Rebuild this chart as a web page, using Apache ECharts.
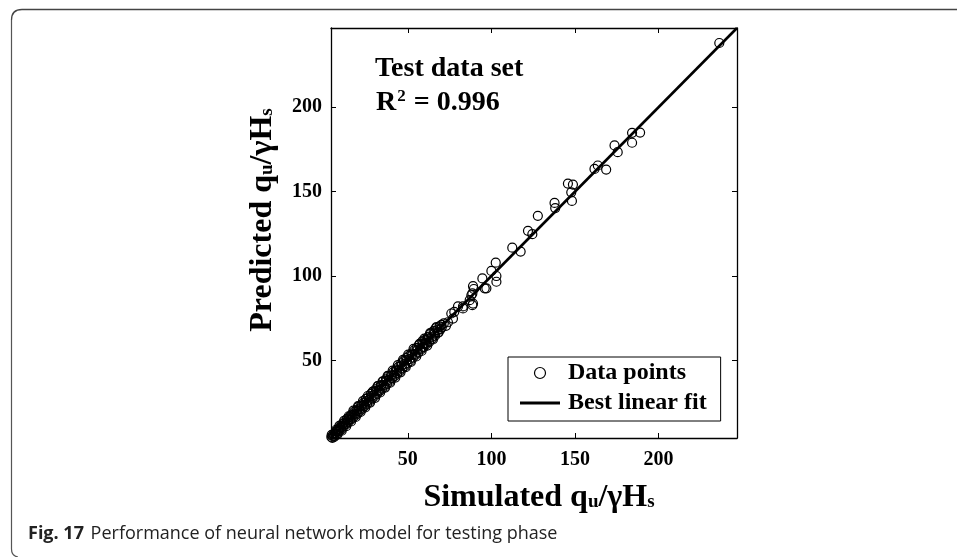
<!DOCTYPE html>
<html>
<head>
<meta charset="utf-8">
<script src="https://cdn.jsdelivr.net/npm/echarts@6/dist/echarts.min.js"></script>
<style>
  html, body { margin: 0; padding: 0; background: #fff; }
  #chart { width: 957px; height: 557px; }
</style>
</head>
<body>
<div id="chart"></div>
<script>
// Simulated vs predicted qu/γHs for the test data set
const simulated = [
  4.2, 4.8, 5.5, 6.1, 6.9, 7.4, 8.0, 8.8, 9.3, 10.1, 10.7, 11.4, 12.0, 12.9, 13.5, 14.2,
  15.0, 15.6, 16.3, 17.1, 17.8, 18.4, 19.2, 19.9, 20.5, 21.3, 22.0, 22.8, 23.5, 24.1, 24.9, 25.6,
  26.4, 27.0, 27.9, 28.5, 29.3, 30.0, 30.8, 31.5, 32.3, 33.0, 33.8, 34.5, 35.2, 36.0, 36.9, 37.5,
  38.3, 39.0, 39.9, 40.6, 41.3, 42.1, 42.9, 43.6, 44.4, 45.1, 46.0, 46.7, 47.5, 48.3, 49.0, 49.8,
  50.6, 51.4, 52.1, 53.0, 53.8, 54.5, 55.3, 56.2, 57.0, 57.8, 58.6, 59.5, 60.3, 61.1, 62.0, 62.8,
  63.7, 64.5, 65.4, 66.3, 67.2, 68.0,
  5.0, 6.5, 8.3, 9.7, 11.0, 12.5, 14.0, 15.3, 16.8, 18.0, 19.5, 21.0, 22.4, 23.8, 25.3, 26.8,
  28.2, 29.7, 31.2, 32.6, 34.1, 35.6, 37.2, 38.7, 40.2, 41.8, 43.3, 44.8, 46.3, 47.9, 49.4, 51.0,
  52.6, 54.2, 55.8, 57.4, 59.0, 60.7, 62.4, 64.1, 65.8, 67.6, 69.0, 70.3, 71.5,
  4.4, 5.9, 7.1, 7.9, 9.0, 10.4, 11.8, 13.1, 14.6, 16.0, 17.4, 18.8, 20.2, 21.7, 23.1, 24.5,
  26.0, 27.4, 28.9, 30.4, 31.9, 33.4, 34.8, 36.4, 37.9, 39.4, 40.9, 42.5, 44.0, 45.6, 47.1, 48.7,
  50.2, 51.8, 53.4, 55.0, 56.6, 58.2, 59.9, 61.6, 63.3, 65.0, 66.7, 68.5, 70.1,
  72.8, 74.0, 69.5, 66.0, 61.0, 59.0, 60.0, 77.0, 76.0, 77.8, 80.0, 83.0, 83.0, 87.0, 88.6, 89.0,
  88.6, 88.0, 89.0, 89.5, 94.6, 96.0, 97.0, 100.0, 102.6, 103.0, 103.0,
  112.5, 117.5, 121.9, 124.5, 127.8, 137.8, 138.2, 148.2, 147.8, 145.8, 148.8,
  161.7, 163.7, 168.7, 173.7, 175.6, 184.2, 189.0, 184.2, 236.4
];
const predicted = [
  4.6, 4.1, 6.3, 5.2, 7.8, 6.5, 9.1, 8.0, 10.4, 9.0, 12.3, 10.6, 13.1, 12.0, 15.2, 13.3,
  16.4, 14.7, 17.9, 16.0, 19.5, 17.2, 20.6, 18.5, 22.4, 20.1, 23.3, 21.4, 25.0, 22.9, 27.2, 24.3,
  28.0, 25.5, 30.1, 27.4, 31.6, 28.6, 32.9, 30.1, 34.7, 31.8, 35.4, 33.2, 37.6, 34.4, 38.8, 36.1,
  40.5, 37.4, 41.2, 39.5, 43.0, 40.7, 44.6, 42.3, 46.1, 43.5, 48.3, 45.2, 49.6, 46.6, 51.4, 48.2,
  52.5, 49.7, 54.0, 51.6, 55.9, 53.2, 57.4, 54.6, 59.8, 56.5, 61.3, 57.9, 62.2, 59.6, 63.8, 61.0,
  65.9, 62.8, 67.5, 64.6, 69.8, 66.3,
  5.3, 6.8, 8.2, 10.0, 11.3, 12.4, 14.6, 15.1, 17.2, 18.1, 19.9, 21.1, 23.0, 23.6, 25.9, 26.6,
  28.8, 29.5, 31.9, 32.4, 34.9, 35.3, 37.8, 38.4, 40.9, 41.5, 43.9, 44.5, 46.9, 47.6, 50.2, 50.7,
  53.3, 53.8, 56.4, 57.0, 59.8, 60.4, 62.9, 63.6, 66.5, 67.9, 70.2, 69.6, 71.9,
  5.8, 4.6, 8.9, 6.2, 11.2, 8.3, 14.1, 11.0, 16.9, 13.8, 20.2, 16.5, 22.9, 19.4, 25.8, 22.1,
  28.9, 25.0, 31.3, 27.8, 34.8, 31.0, 37.4, 33.9, 40.8, 36.8, 43.9, 39.8, 47.2, 42.9, 50.3, 46.0,
  53.4, 49.1, 56.8, 52.3, 59.1, 55.6, 62.9, 58.8, 66.2, 62.4, 69.1, 66.8, 71.0,
  70.5, 72.6, 68.4, 65.9, 61.9, 57.9, 60.2, 74.8, 77.8, 78.8, 82.0, 82.0, 80.8, 85.7, 82.7, 83.7,
  89.7, 88.6, 94.0, 92.3, 98.6, 92.7, 92.7, 103.0, 107.9, 100.0, 96.6,
  116.8, 114.5, 126.8, 124.8, 135.7, 143.3, 140.3, 144.5, 149.6, 154.8, 154.2,
  163.5, 165.5, 163.1, 177.4, 173.4, 184.9, 185.0, 179.0, 238.1
];

// Best linear fit end points
const fitSimulated = [4, 247];
const fitPredicted = [4, 247];

// Axis extent and labelled ticks
const axisMin = 4;
const axisMax = 247;
const tickValues = [50, 100, 150, 200];

const serif = '"Liberation Serif", "Times New Roman", serif';
const sans = '"Open Sans", "Noto Sans", sans-serif';

const points = simulated.map((s, i) => [s, predicted[i]]);
const fitLine = fitSimulated.map((s, i) => [s, fitPredicted[i]]);

function makeAxis(position, showLabels, margin) {
  return {
    type: 'value',
    position: position,
    min: axisMin,
    max: axisMax,
    axisLine: { show: true, onZero: false, lineStyle: { color: '#000', width: 1.3 } },
    axisTick: { show: true, inside: true, length: 5, customValues: tickValues,
                lineStyle: { color: '#000', width: 1 } },
    axisLabel: { show: showLabels, customValues: tickValues, margin: margin,
                 color: '#000', fontFamily: serif, fontWeight: 'bold', fontSize: 20 },
    splitLine: { show: false }
  };
}

const chart = echarts.init(document.getElementById('chart'), null, { renderer: 'canvas' });

chart.setOption({
  animation: false,
  backgroundColor: '#fff',
  grid: { left: 331, right: 220, top: 28, bottom: 119, containLabel: false },
  xAxis: [makeAxis('bottom', true, 12), makeAxis('top', false, 8)],
  yAxis: [makeAxis('left', true, 9), makeAxis('right', false, 8)],
  legend: {
    orient: 'vertical',
    left: 508,
    top: 357,
    itemWidth: 40,
    itemHeight: 11,
    itemGap: 6,
    padding: [4, 14, 6, 12],
    borderColor: '#000',
    borderWidth: 1,
    textStyle: { fontFamily: serif, fontWeight: 'bold', fontSize: 24, color: '#000',
                 padding: [0, 0, 0, 3] },
    data: [
      { name: 'Data points', icon: 'circle',
        itemStyle: { color: 'rgba(0,0,0,0)', borderColor: '#000', borderWidth: 1.2 } },
      { name: 'Best linear fit', icon: 'path://M0,0h40v3h-40z',
        itemStyle: { color: '#000', borderWidth: 0 } }
    ]
  },
  series: [
    {
      name: 'Data points',
      type: 'scatter',
      data: points,
      symbol: 'circle',
      symbolSize: 9,
      clip: false,
      itemStyle: { color: 'rgba(0,0,0,0)', borderColor: '#000', borderWidth: 1.2, opacity: 1 },
      z: 2
    },
    {
      name: 'Best linear fit',
      type: 'line',
      data: fitLine,
      symbol: 'none',
      lineStyle: { color: '#000', width: 2.6 },
      itemStyle: { color: '#000' },
      z: 3
    }
  ],
  graphic: [
    // outer figure frame: left edge, rounded corners, top edge
    {
      type: 'polyline',
      shape: { points: [[11.5, 549], [11.5, 20]] },
      style: { fill: null, stroke: '#555', lineWidth: 1.2 },
      silent: true
    },
    {
      type: 'bezierCurve',
      shape: { x1: 11.5, y1: 20, cpx1: 11.5, cpy1: 9.5, x2: 22, y2: 9.5 },
      style: { fill: null, stroke: '#444', lineWidth: 1.3 },
      silent: true
    },
    {
      type: 'line',
      shape: { x1: 22, y1: 9.5, x2: 957, y2: 9.5 },
      style: { stroke: '#444', lineWidth: 1.6 },
      silent: true
    },
    {
      type: 'bezierCurve',
      shape: { x1: 11.5, y1: 549, cpx1: 11.5, cpy1: 556, x2: 18, y2: 557 },
      style: { fill: null, stroke: '#555', lineWidth: 1.2 },
      silent: true
    },
    // annotation
    {
      type: 'text', left: 375, top: 55,
      style: { text: 'Test data set', font: 'bold 28px ' + serif, fill: '#000' }
    },
    {
      type: 'text', left: 376, top: 88,
      style: {
        text: '{m|R}{sup|2}{m| = 0.996}',
        rich: {
          m: { fontFamily: serif, fontWeight: 'bold', fontSize: 28, fill: '#000', lineHeight: 30 },
          sup: { fontFamily: serif, fontWeight: 'bold', fontSize: 17, fill: '#000',
                 lineHeight: 30, verticalAlign: 'top', padding: [0, 1, 10, 1] }
        }
      }
    },
    // axis titles
    {
      type: 'text', x: 539, y: 498,
      style: {
        text: '{m|Simulated q}{sub|u}{m|/γH}{sub|s}',
        align: 'center', verticalAlign: 'middle',
        rich: {
          m: { fontFamily: serif, fontWeight: 'bold', fontSize: 32, fill: '#000', lineHeight: 36 },
          sub: { fontFamily: serif, fontWeight: 'bold', fontSize: 19, fill: '#000',
                 lineHeight: 36, padding: [8, 0, 0, 0] }
        }
      }
    },
    {
      type: 'text', x: 263, y: 220, rotation: Math.PI / 2,
      style: {
        text: '{m|Predicted q}{sub|u}{m|/γH}{sub|s}',
        align: 'center', verticalAlign: 'middle',
        rich: {
          m: { fontFamily: serif, fontWeight: 'bold', fontSize: 32, fill: '#000', lineHeight: 36 },
          sub: { fontFamily: serif, fontWeight: 'bold', fontSize: 19, fill: '#000',
                 lineHeight: 36, padding: [8, 0, 0, 0] }
        }
      }
    },
    // figure caption
    {
      type: 'text', left: 28, top: 525,
      style: {
        text: '{b|Fig. 17}  {r|Performance of neural network model for testing phase}',
        rich: {
          b: { fontFamily: sans, fontWeight: 'bold', fontSize: 18, fill: '#222' },
          r: { fontFamily: sans, fontSize: 18, fill: '#222' }
        }
      }
    }
  ]
});
</script>
</body>
</html>
